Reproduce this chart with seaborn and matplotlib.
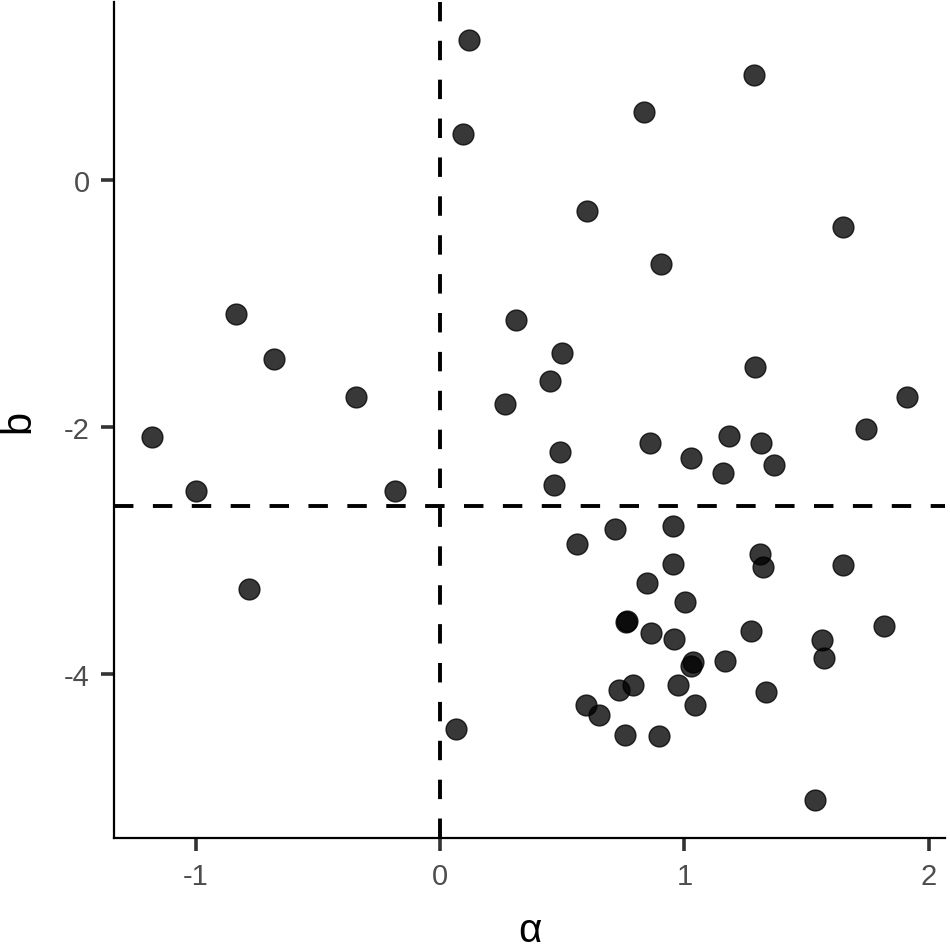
import matplotlib
matplotlib.use("Agg")
import matplotlib.pyplot as plt
import seaborn as sns
import pandas as pd

alpha_vals = [0.118, 1.284, 0.834, 0.092, 0.603, 1.648, 0.905, -0.835, 0.309, -0.682,
              0.498, 1.289, 0.449, -0.345, 1.912, 0.264, -1.181, 1.744, 0.859, 1.182,
              1.314, 1.027, 1.367, 0.490, 1.158, 0.465, -0.998, -0.184, 0.716, 0.952,
              0.559, 0.952, 1.309, 1.320, 1.651, -0.782, 0.845, 1.003, 0.763, 0.761,
              0.864, 0.957, 1.273, 1.565, 1.816, 1.570, 1.036, 1.025, 1.166, 0.789,
              0.730, 0.972, 1.334, 0.598, 0.650, 1.044, 0.066, 0.757, 0.896, 1.535]
b_vals = [1.131, 0.848, 0.547, 0.372, -0.251, -0.382, -0.684, -1.088, -1.131, -1.452,
          -1.398, -1.511, -1.624, -1.754, -1.754, -1.810, -2.079, -2.012, -2.125, -2.069,
          -2.125, -2.246, -2.303, -2.198, -2.368, -2.465, -2.519, -2.519, -2.826, -2.796,
          -2.947, -3.109, -3.028, -3.130, -3.117, -3.311, -3.259, -3.413, -3.569, -3.580,
          -3.663, -3.715, -3.653, -3.720, -3.610, -3.865, -3.897, -3.930, -3.895, -4.086,
          -4.127, -4.086, -4.145, -4.248, -4.329, -4.248, -4.442, -4.491, -4.499, -5.016]
vline_x = 0.0
hline_y = -2.64
x_ticks = [-1, 0, 1, 2]
y_ticks = [0, -2, -4]

df = pd.DataFrame({"alpha": alpha_vals, "b": b_vals})

sns.set_style("ticks")
plt.rcParams["font.family"] = ["Liberation Sans", "DejaVu Sans"]

fig = plt.figure(figsize=(9.5, 9.53), dpi=100)
ax = fig.add_axes([0.12, 0.1196, 0.8747, 0.8773])

sns.scatterplot(data=df, x="alpha", y="b", ax=ax, s=225, color="black",
                alpha=0.78, edgecolor="black", linewidth=1.0, zorder=3)

ax.axvline(vline_x, color="black", lw=2.8, dashes=(5, 5), zorder=2)
ax.axhline(hline_y, color="black", lw=2.8, dashes=(5, 5), zorder=2)

xr = max(alpha_vals) - min(alpha_vals)
yr = max(b_vals) - min(b_vals)
ax.set_xlim(min(alpha_vals) - 0.05 * xr, max(alpha_vals) + 0.05 * xr)
ax.set_ylim(min(b_vals) - 0.05 * yr, max(b_vals) + 0.05 * yr)

ax.set_xticks(x_ticks)
ax.set_yticks(y_ticks)
ax.set_xticklabels([str(t) for t in x_ticks])
ax.set_yticklabels([str(t) for t in y_ticks])

ax.tick_params(axis="both", length=9.5, width=2.6, color="#333333",
               labelsize=21, labelcolor="#4D4D4D", pad=8)

for side in ["top", "right"]:
    ax.spines[side].set_visible(False)
for side in ["left", "bottom"]:
    ax.spines[side].set_linewidth(1.6)
    ax.spines[side].set_color("black")

ax.set_xlabel("α", fontsize=29, color="black", labelpad=15)
ax.set_ylabel("b", fontsize=30, color="black", labelpad=18)

fig.savefig("out.png", dpi=100)
